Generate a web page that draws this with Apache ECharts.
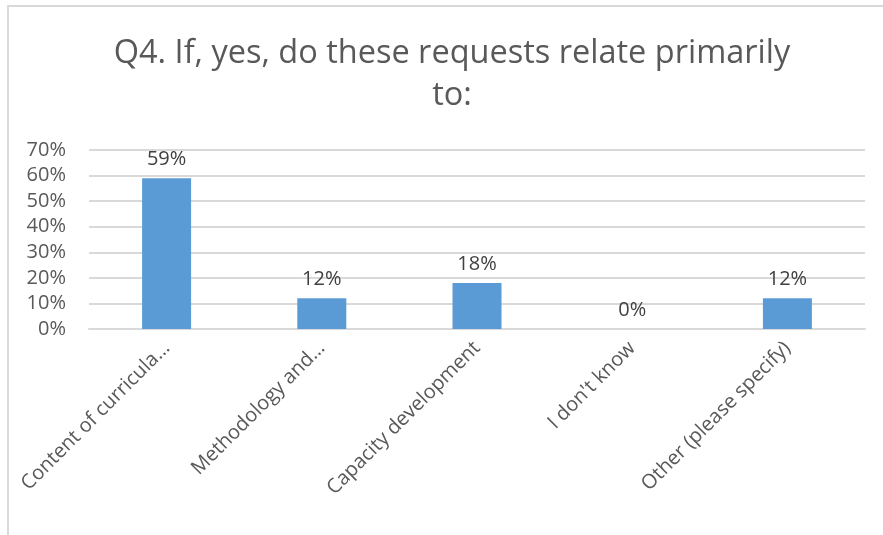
<!DOCTYPE html>
<html>
<head>
<meta charset="utf-8">
<script src="https://cdn.jsdelivr.net/npm/echarts@6/dist/echarts.min.js"></script>
<style>
  html, body { margin: 0; padding: 0; background: #fff; }
  #chart { width: 883px; height: 535px; }
</style>
</head>
<body>
<div id="chart"></div>
<script>
// Survey responses, share of respondents (%)
const categories = [
  'Content of curricula…',
  'Methodology and…',
  'Capacity development',
  "I don't know",
  'Other (please specify)'
];
const shares = [59, 12, 18, 0, 12];
const yTicks = { min: 0, max: 70, interval: 10 };
const titleText = 'Q4. If, yes, do these requests relate primarily\nto:';

const FONT = '"Open Sans", "Noto Sans", sans-serif';
const chart = echarts.init(document.getElementById('chart'), null, { renderer: 'canvas' });

chart.setOption({
  backgroundColor: '#ffffff',
  animation: false,
  title: {
    text: titleText,
    left: 447,
    top: 28,
    textAlign: 'center',
    textStyle: {
      fontFamily: FONT,
      fontSize: 32.5,
      fontWeight: 'normal',
      color: '#595959',
      lineHeight: 42
    }
  },
  graphic: [{
    type: 'rect',
    shape: { x: 8, y: 6, width: 1000, height: 1000 },
    style: { fill: 'none', stroke: '#d9d9d9', lineWidth: 2 },
    silent: true
  }],
  grid: { left: 89, right: 18, top: 150, bottom: 206 },
  xAxis: {
    type: 'category',
    data: categories,
    axisLine: { show: true, lineStyle: { color: '#d9d9d9', width: 2 } },
    axisTick: { show: false },
    axisLabel: {
      interval: 0,
      rotate: 45,
      margin: 16,
      fontFamily: FONT,
      fontSize: 20,
      color: '#595959'
    }
  },
  yAxis: {
    type: 'value',
    min: yTicks.min,
    max: yTicks.max,
    interval: yTicks.interval,
    axisLine: { show: false },
    axisTick: { show: false },
    splitLine: { lineStyle: { color: '#d9d9d9', width: 2 } },
    axisLabel: {
      margin: 23,
      fontFamily: FONT,
      fontSize: 20,
      color: '#595959',
      formatter: v => v + '%'
    }
  },
  series: [{
    type: 'bar',
    data: shares,
    barWidth: 49,
    itemStyle: { color: '#5b9bd5' },
    label: {
      show: true,
      position: 'top',
      distance: 9,
      fontFamily: FONT,
      fontSize: 20,
      color: '#404040',
      formatter: p => p.value + '%'
    }
  }]
});
</script>
</body>
</html>
